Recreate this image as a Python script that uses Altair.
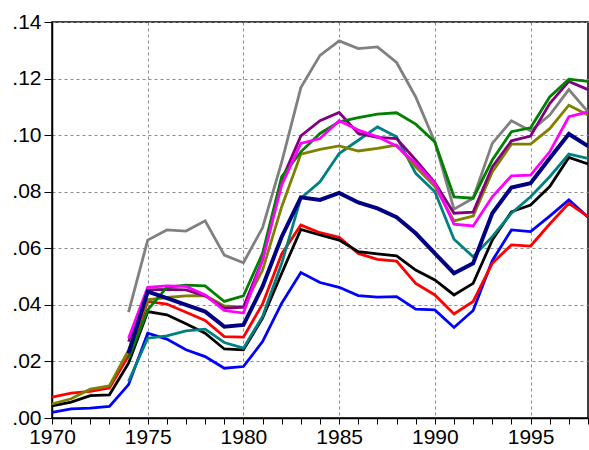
import altair as alt
import pandas as pd

years = list(range(1970, 1999))

gray = [None] * 4 + [0.0374, 0.0629, 0.0665, 0.0661, 0.0697, 0.0576, 0.0549, 0.0673, 0.0905, 0.1168, 0.1282, 0.1333,
                     0.1306, 0.1312, 0.1257, 0.1135, 0.0976, 0.0738, 0.0777, 0.0971, 0.1051, 0.1015, 0.1071, 0.1161, 0.1082]
green = [None] * 4 + [0.021, 0.0382, 0.0462, 0.047, 0.0467, 0.0412, 0.0432, 0.0582, 0.0853, 0.0941, 0.1006, 0.1047,
                      0.1062, 0.1074, 0.1079, 0.1039, 0.0976, 0.0782, 0.0777, 0.0912, 0.1012, 0.1026, 0.1135, 0.1198, 0.119]
purple = [None] * 4 + [0.027, 0.0453, 0.0455, 0.0453, 0.0432, 0.0388, 0.0392, 0.056, 0.0841, 0.0997, 0.1051, 0.108,
                       0.1006, 0.0992, 0.0988, 0.0912, 0.0832, 0.0724, 0.0728, 0.0888, 0.098, 0.0997, 0.1112, 0.119, 0.1161]
magenta = [None] * 4 + [0.0282, 0.0462, 0.0467, 0.0465, 0.0435, 0.038, 0.0371, 0.0558, 0.0824, 0.0971, 0.0988, 0.1051,
                        0.1018, 0.0994, 0.0962, 0.09, 0.083, 0.0685, 0.0679, 0.0782, 0.0856, 0.0859, 0.0941, 0.1065, 0.1082]
olive = [0.005, 0.0068, 0.0102, 0.0114, 0.024, 0.0418, 0.0426, 0.0432, 0.0433, 0.0396, 0.0392, 0.0523, 0.0747, 0.0933,
         0.095, 0.0962, 0.0944, 0.0953, 0.0965, 0.0888, 0.0818, 0.0697, 0.0714, 0.087, 0.0968, 0.0968, 0.1023, 0.1106, 0.1071]
teal = [None] * 4 + [0.013, 0.0282, 0.029, 0.0308, 0.0314, 0.0267, 0.0247, 0.0359, 0.0547, 0.0777, 0.0835, 0.0935,
                     0.0982, 0.1029, 0.0994, 0.0865, 0.08, 0.0632, 0.057, 0.0641, 0.0724, 0.0782, 0.0853, 0.0933, 0.0918]
navy = [None] * 4 + [0.0229, 0.0447, 0.0424, 0.04, 0.0376, 0.0323, 0.0329, 0.0465, 0.0641, 0.078, 0.0771, 0.0796,
                     0.0762, 0.0741, 0.071, 0.0653, 0.0582, 0.0512, 0.0547, 0.0724, 0.0815, 0.083, 0.0918, 0.1004, 0.0961]
black = [0.0043, 0.0056, 0.0079, 0.0082, 0.0194, 0.0376, 0.0365, 0.0333, 0.030, 0.0244, 0.0241, 0.0353, 0.0512, 0.0667,
         0.0647, 0.0629, 0.0588, 0.058, 0.0573, 0.0523, 0.0488, 0.0435, 0.0476, 0.0629, 0.0729, 0.0753, 0.0818, 0.0921, 0.0898]
red = [0.0074, 0.0088, 0.0094, 0.0106, 0.022, 0.0412, 0.0403, 0.0374, 0.0345, 0.0288, 0.0286, 0.0403, 0.058, 0.0682,
       0.0655, 0.0639, 0.0582, 0.0561, 0.0555, 0.0476, 0.0435, 0.0368, 0.0412, 0.0547, 0.0612, 0.0608, 0.0686, 0.0759, 0.0712]
blue = [0.002, 0.0032, 0.0035, 0.0041, 0.0118, 0.030, 0.0279, 0.0241, 0.0217, 0.0176, 0.0182, 0.027, 0.0406, 0.0514,
        0.0479, 0.0462, 0.0433, 0.0427, 0.0429, 0.0385, 0.0382, 0.032, 0.038, 0.0556, 0.0665, 0.0659, 0.0714, 0.0771, 0.071]

# drawing order bottom -> top
series = [
    ("blue", blue, "#0000ff", 2.8),
    ("red", red, "#ff0000", 2.8),
    ("black", black, "#000000", 2.8),
    ("teal", teal, "#008080", 2.8),
    ("olive", olive, "#808000", 2.8),
    ("gray", gray, "#808080", 2.8),
    ("purple", purple, "#800080", 2.8),
    ("green", green, "#008000", 2.8),
    ("magenta", magenta, "#ff00ff", 2.8),
    ("navy", navy, "#000080", 4),
]

x_ticks = years
y_ticks = [0.0, 0.02, 0.04, 0.06, 0.08, 0.10, 0.12, 0.14]

x_enc = alt.X(
    "year:Q",
    scale=alt.Scale(domain=[1970, 1998], nice=False, zero=False),
    axis=alt.Axis(
        values=x_ticks,
        title=None,
        labelExpr="datum.value % 5 === 0 ? format(datum.value, 'd') : ''",
        labelOverlap=False,
        labelFlush=False,
        labelPadding=2,
        tickSize=6,
        gridOpacity={"condition": {"test": "datum.value % 5 === 0", "value": 1}, "value": 0},
    ),
)
y_enc = alt.Y(
    "value:Q",
    scale=alt.Scale(domain=[0, 0.14], nice=False),
    axis=alt.Axis(
        values=y_ticks,
        title=None,
        labelExpr="substring(format(datum.value, '.2f'), 1)",
        tickSize=8,
        labelPadding=3,
    ),
)

layers = []
for name, vals, color, w in series:
    df = pd.DataFrame({"year": years, "value": vals}).dropna()
    layers.append(
        alt.Chart(df).mark_line(color=color, strokeWidth=w, strokeJoin="miter", clip=True).encode(x=x_enc, y=y_enc)
    )

chart = (
    alt.layer(*layers)
    .properties(
        width=536,
        height=396,
        padding={"left": 52, "top": 22, "right": 1, "bottom": 32},
        autosize="none",
        background="white",
    )
    .configure_view(stroke="black", strokeWidth=1.5)
    .configure_axis(
        domainColor="black",
        domainWidth=1.5,
        tickColor="black",
        tickWidth=1,
        gridColor="#8c8c8c",
        gridDash=[3, 3],
        gridWidth=1,
        labelFont="Liberation Sans",
        labelFontSize=21,
        labelColor="black",
    )
)

chart.save("out.html", embed_options={"renderer": "svg", "actions": False})
